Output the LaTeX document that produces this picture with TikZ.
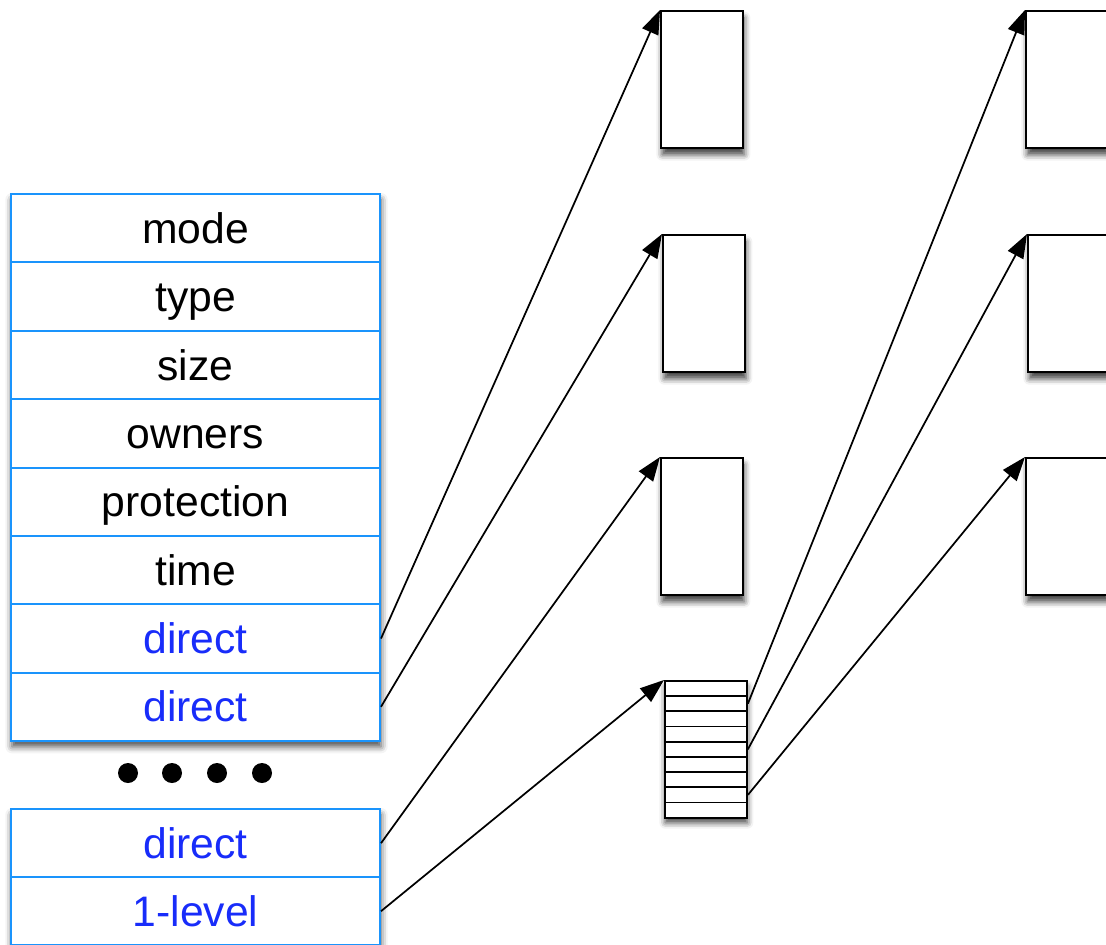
\documentclass[tikz,border=0pt]{standalone}
\usepackage{fontspec}
\setmainfont{Liberation Sans}
\usetikzlibrary{arrows.meta,shadows.blur}
\definecolor{rowblue}{RGB}{26,148,252}
\definecolor{ptrblue}{RGB}{24,44,250}
\tikzset{
  field/.style={draw=rowblue, line width=1.5pt, fill=white, anchor=north west,
    minimum width=276.75pt, minimum height=51.3pt, inner sep=0pt,
    text height=27pt, text depth=4.5pt,
    font=\fontsize{32}{36}\selectfont},
  ptrfield/.style={field, text=ptrblue},
  tblshadow/.style={blur shadow={shadow xshift=1.5pt, shadow yshift=-5pt,
    shadow blur radius=5pt, shadow opacity=70}},
  blkshadow/.style={blur shadow={shadow xshift=1pt, shadow yshift=-5pt,
    shadow blur radius=4.5pt, shadow opacity=75}},
  datablock/.style={draw=black, line width=1.5pt, fill=white, anchor=north west,
    minimum width=61.5pt, minimum height=102.75pt, inner sep=0pt, blkshadow},
  idxrow/.style={draw=black, line width=1.4pt, fill=white, anchor=north west,
    minimum width=61.5pt, minimum height=11.4pt, inner sep=0pt},
  ptr/.style={draw=black, line width=1.3pt, -{Triangle[length=18pt,width=13pt]}},
}
\begin{document}
\begin{tikzpicture}[x=0.75pt,y=-0.75pt]
\useasboundingbox (0,0) rectangle (1106,945);

% inode table, upper part
\fill[white, tblshadow] (10,193) rectangle (379,740);
\node[field] (mode)  at (10,193)   {mode};
\node[field] (type)  at (10,261.4) {type};
\node[field] (size)  at (10,329.8) {size};
\node[field] (owners) at (10,398.1) {owners};
\node[field] (prot)  at (10,466.5) {protection};
\node[field] (time)  at (10,534.9) {time};
\node[ptrfield] (d1) at (10,603.3) {direct};
\node[ptrfield] (d2) at (10,671.6) {direct};

% ellipsis
\foreach \x in {128,172,217,262} \fill (\x,773) circle (10);

% inode table, lower part
\fill[white, tblshadow] (10,808) rectangle (379,944);
\node[ptrfield] (d3) at (10,808) {direct};
\node[ptrfield] (l1) at (10,876) {1-level};

% data blocks, first column
\node[datablock] (b1) at (660,10)  {};
\node[datablock] (b2) at (662,234) {};
\node[datablock] (b3) at (660,457) {};

% single indirect block
\fill[white, blkshadow] (664,680) rectangle (746,816);
\foreach \i in {1,...,9}
  \node[idxrow] (ix\i) at (664,{680+(\i-1)*15.2}) {};

% data blocks, second column
\node[datablock] (c1) at (1025,10)  {};
\node[datablock] (c2) at (1027,234) {};
\node[datablock] (c3) at (1025,457) {};

% pointers
\draw[ptr] (d1.east) -- (b1.north west);
\draw[ptr] (d2.east) -- (b2.north west);
\draw[ptr] (d3.east) -- (b3.north west);
\draw[ptr] (l1.east) -- (ix1.north west);
\draw[ptr] (ix2.east) -- (c1.north west);
\draw[ptr] (ix5.east) -- (c2.north west);
\draw[ptr] (ix8.east) -- (c3.north west);
\end{tikzpicture}
\end{document}
